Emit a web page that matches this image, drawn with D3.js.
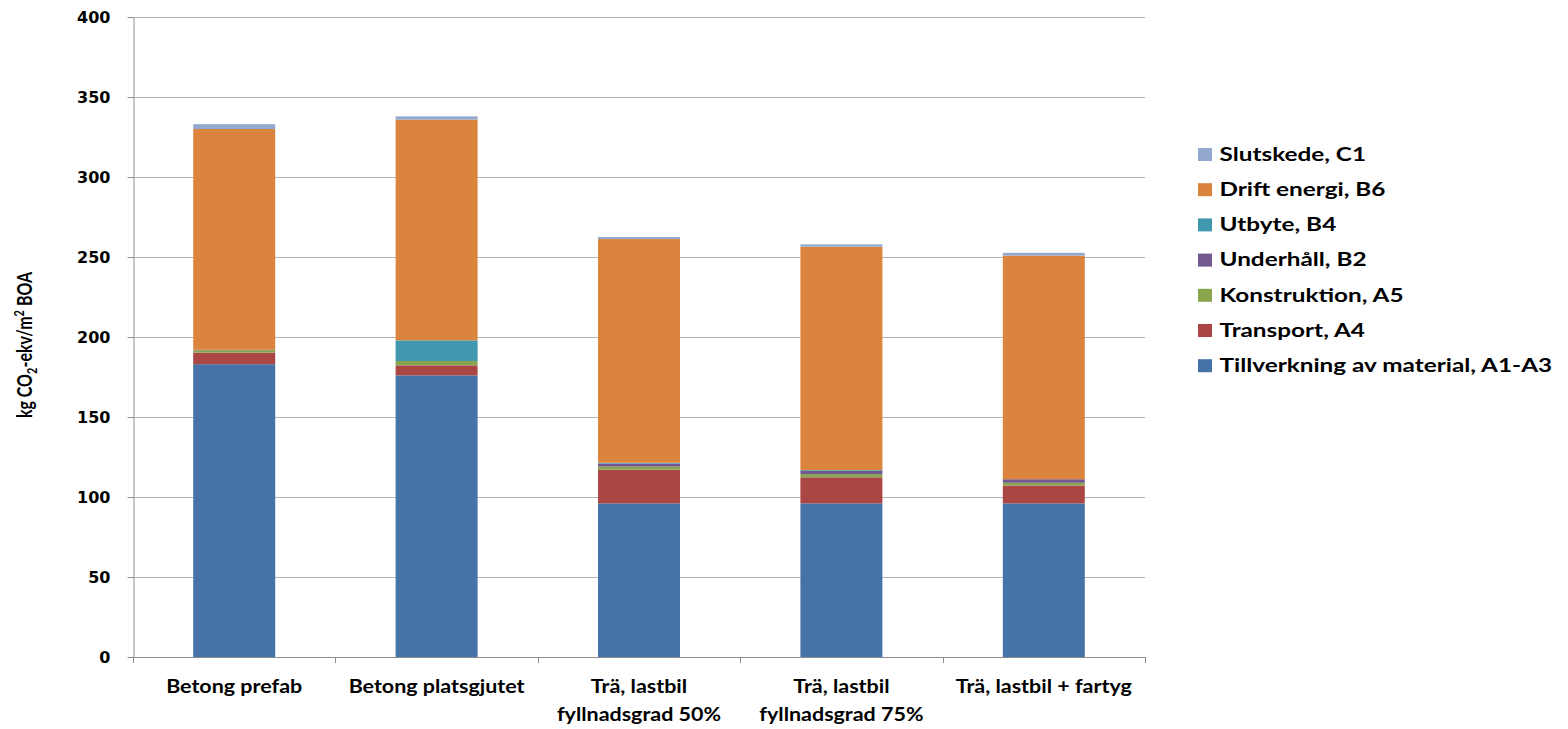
<!DOCTYPE html>
<html>
<head>
<meta charset="utf-8">
<script src="https://cdn.jsdelivr.net/npm/d3@7"></script>
<style>
  html, body { margin: 0; padding: 0; background: #fff; }
  svg { display: block; }
</style>
</head>
<body>
<svg id="chart" width="1568" height="729"></svg>
<script>
// Building alternatives (x categories), two-line labels
const categories = [
  ["Betong prefab"],
  ["Betong platsgjutet"],
  ["Trä, lastbil", "fyllnadsgrad 50%"],
  ["Trä, lastbil", "fyllnadsgrad 75%"],
  ["Trä, lastbil + fartyg"]
];

// Life-cycle stages, stacked bottom to top
const stages = [
  "Tillverkning av material, A1-A3",
  "Transport, A4",
  "Konstruktion, A5",
  "Underhåll, B2",
  "Utbyte, B4",
  "Drift energi, B6",
  "Slutskede, C1"
];
const stageColors = ["#4572A7", "#AA4643", "#89A54E", "#71588F", "#4198AF", "#DB843D", "#93A9CF"];

// kg CO2-ekv/m2 BOA per stage, one value per category
const tillverkning = [183, 176, 96, 96, 96];
const transport    = [7.2, 6.3, 21, 16.3, 11.2];
const konstruktion = [1.5, 2.7, 2.0, 2.0, 1.7];
const underhall    = [0.3, 0, 1.9, 2.0, 2.2];
const utbyte       = [0, 12.9, 0.5, 0.5, 0];
const driftEnergi  = [138, 138, 139.8, 139.6, 139.8];
const slutskede    = [3, 2, 1.3, 1.5, 1.7];

const yTicks = [0, 50, 100, 150, 200, 250, 300, 350, 400];

const series = [tillverkning, transport, konstruktion, underhall, utbyte, driftEnergi, slutskede];

const rows = categories.map((c, i) => {
  const r = { key: i };
  stages.forEach((s, j) => { r[s] = series[j][i]; });
  return r;
});

const svg = d3.select("#chart");
const plot = { left: 133, right: 1145, top: 17, bottom: 657 };
const stretch = 1.27; // wide text proportions used throughout

const x = d3.scaleBand()
  .domain(categories.map((c, i) => i))
  .range([plot.left, plot.right])
  .paddingInner(0.595)
  .paddingOuter(0.2975);

const y = d3.scaleLinear().domain([0, 400]).range([plot.bottom, plot.top]);

// gridlines
svg.append("g")
  .selectAll("line")
  .data(yTicks.filter(t => t > 0))
  .join("line")
  .attr("x1", plot.left).attr("x2", plot.right)
  .attr("y1", d => Math.round(y(d)) + 0.5).attr("y2", d => Math.round(y(d)) + 0.5)
  .attr("stroke", "#b3b3b3").attr("stroke-width", 1);

// stacked bars
const stack = d3.stack().keys(stages);
const layers = stack(rows);

svg.append("g")
  .selectAll("g")
  .data(layers)
  .join("g")
  .attr("fill", (d, i) => stageColors[i])
  .selectAll("rect")
  .data(d => d)
  .join("rect")
  .attr("x", d => x(d.data.key))
  .attr("width", x.bandwidth())
  .attr("y", d => y(d[1]))
  .attr("height", d => Math.max(0, y(d[0]) - y(d[1])));

// y axis
const yAxis = d3.axisLeft(y).tickValues(yTicks).tickSize(6).tickPadding(17).tickSizeOuter(0);
const gy = svg.append("g")
  .attr("transform", `translate(${plot.left + 0.5},0)`)
  .call(yAxis);
gy.select(".domain").attr("stroke", "#8c8c8c");
gy.selectAll(".tick line").attr("stroke", "#8c8c8c");
gy.selectAll(".tick text")
  .attr("fill", "#000")
  .style("font-family", "'DejaVu Sans', sans-serif")
  .style("font-weight", "bold")
  .style("font-size", "16px");

// x axis line with boundary ticks
const gx = svg.append("g");
gx.append("line")
  .attr("x1", plot.left).attr("x2", plot.right)
  .attr("y1", plot.bottom + 0.5).attr("y2", plot.bottom + 0.5)
  .attr("stroke", "#8c8c8c");
const bounds = d3.range(categories.length + 1).map(i => plot.left + i * (plot.right - plot.left) / categories.length);
gx.selectAll("line.tk")
  .data(bounds)
  .join("line")
  .attr("class", "tk")
  .attr("x1", d => Math.round(d) + 0.5).attr("x2", d => Math.round(d) + 0.5)
  .attr("y1", plot.bottom).attr("y2", plot.bottom + 6)
  .attr("stroke", "#8c8c8c");

// category labels
const lab = svg.append("g")
  .style("font-family", "Lato, sans-serif")
  .style("font-weight", "bold")
  .style("font-size", "19px");
categories.forEach((lines, i) => {
  const t = lab.append("text")
    .attr("transform", `translate(${x(i) + x.bandwidth() / 2},693) scale(1.13,1)`)
    .attr("text-anchor", "middle");
  lines.forEach((ln, k) => {
    t.append("tspan").attr("x", 0).attr("dy", k === 0 ? 0 : 28).text(ln);
  });
});

// y axis title
const yt = svg.append("text")
  .attr("transform", `translate(31.5,345) rotate(-90) scale(1,${stretch})`)
  .attr("text-anchor", "middle")
  .style("font-family", "Lato, sans-serif")
  .style("font-weight", "bold")
  .style("font-size", "16px");
yt.append("tspan").text("kg CO");
yt.append("tspan").attr("dy", 4).style("font-size", "11px").text("2");
yt.append("tspan").attr("dy", -4).text("-ekv/m");
yt.append("tspan").attr("dy", -6).style("font-size", "11px").text("2");
yt.append("tspan").attr("dy", 6).text(" BOA");

// legend, top entry is the top of the stack
const legendOrder = stages.map((s, i) => i).reverse();
const lg = svg.append("g").attr("transform", "translate(1198,0)");
const items = lg.selectAll("g")
  .data(legendOrder)
  .join("g")
  .attr("transform", (d, k) => `translate(0,${155 + k * 35.2})`);
items.append("rect")
  .attr("x", 0).attr("y", -7).attr("width", 14).attr("height", 13)
  .attr("fill", d => stageColors[d]);
items.append("text")
  .attr("transform", `translate(21.5,5.7) scale(1.28,1)`)
  .style("font-family", "Lato, sans-serif")
  .style("font-weight", "bold")
  .style("font-size", "19px")
  .text(d => stages[d]);
</script>
</body>
</html>
